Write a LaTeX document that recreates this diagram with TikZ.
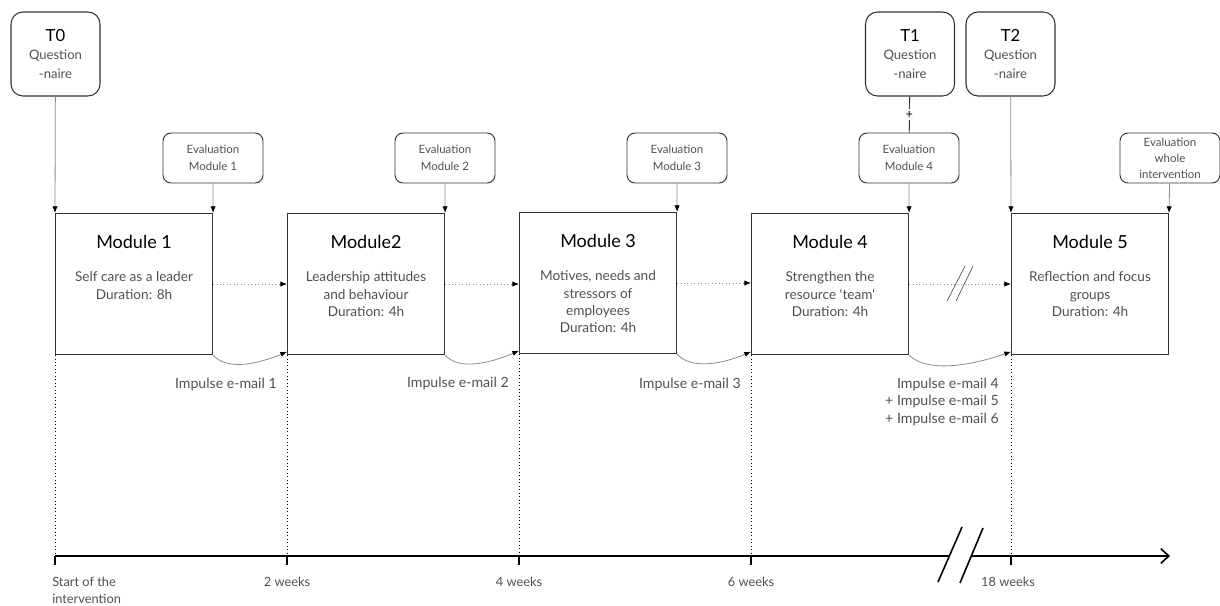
\documentclass[tikz,border=0pt]{standalone}
\usepackage{fontspec}
\setmainfont{Lato}
\usetikzlibrary{arrows.meta,positioning}

\definecolor{txtgray}{HTML}{505050}
\definecolor{linegray}{HTML}{8C8C8C}

\tikzset{
  modbox/.style={draw=black!80, line width=0.8pt, minimum width=117.75pt,
    minimum height=105.75pt, inner sep=0pt, anchor=north west},
  modtitle/.style={font=\fontsize{13.5}{16}\selectfont, text=black},
  modtext/.style={font=\fontsize{10.2}{12.8}\selectfont, text=txtgray,
    align=center, inner sep=0pt, anchor=north},
  qbox/.style={draw=black!80, line width=0.8pt, rounded corners=9pt,
    minimum width=66.75pt, minimum height=63pt, inner sep=0pt, align=center,
    font=\fontsize{9.8}{14}\selectfont, text=txtgray},
  evalbox/.style={draw=black!80, line width=0.7pt, rounded corners=6pt,
    minimum width=75pt, minimum height=37.5pt, inner sep=0pt, align=center,
    font=\fontsize{8.6}{12.5}\selectfont, text=txtgray},
  ptr/.style={linegray, line width=0.6pt, -{Latex[length=5pt,width=4pt,color=black]}},
  dotptr/.style={ptr, dotted},
  mailptr/.style={ptr},
  axis/.style={black, line width=1.2pt},
  lbl/.style={font=\fontsize{9.6}{12.8}\selectfont, text=txtgray, inner sep=0pt},
  maillbl/.style={lbl, font=\fontsize{10.6}{13.1}\selectfont}
}

\begin{document}
\begin{tikzpicture}[x=0.75pt, y=-0.75pt]
    \useasboundingbox (0,0) rectangle (1220,606);

    % questionnaires and evaluations
    \node[qbox] (t0) at (55.5,54) {\textcolor{black}{\fontsize{12.5}{14}\selectfont T0}\\Question\\-naire};
    \node[qbox] (t1) at (910,54) {\textcolor{black}{\fontsize{12.5}{14}\selectfont T1}\\Question\\-naire};
    \node[qbox] (t2) at (1010.5,54) {\textcolor{black}{\fontsize{12.5}{14}\selectfont T2}\\Question\\-naire};

    \node[evalbox] (e1) at (213,158) {Evaluation\\Module 1};
    \node[evalbox] (e2) at (445,158) {Evaluation\\Module 2};
    \node[evalbox] (e3) at (677,158) {Evaluation\\Module 3};
    \node[evalbox] (e4) at (909,158) {Evaluation\\Module 4};
    \node[evalbox, font=\fontsize{8.6}{12}\selectfont] (e5) at (1170,158) {Evaluation\\whole\\intervention};

    % modules
    \node[modbox] (m1) at (55,213) {};
    \node[modbox] (m2) at (287,213) {};
    \node[modbox] (m3) at (519,212) {};
    \node[modbox] (m4) at (751,213) {};
    \node[modbox] (m5) at (1011,213) {};

    \node[modtitle] (m1t) at ([yshift=-22pt]m1.north) {Module 1};
    \node[modtitle] (m2t) at ([yshift=-22pt]m2.north) {Module2};
    \node[modtitle] (m3t) at ([yshift=-22pt]m3.north) {Module 3};
    \node[modtitle] (m4t) at ([yshift=-22pt]m4.north) {Module 4};
    \node[modtitle] (m5t) at ([yshift=-22pt]m5.north) {Module 5};

    \node[modtext] (m1x) at ([yshift=-44pt]m1.north) {Self care as a leader\\Duration: 8h};
    \node[modtext] (m2x) at ([yshift=-44pt]m2.north) {Leadership attitudes\\and behaviour\\Duration: 4h};
    \node[modtext] (m3x) at ([yshift=-44pt]m3.north) {Motives, needs and\\stressors of\\employees\\Duration: 4h};
    \node[modtext] (m4x) at ([yshift=-44pt]m4.north) {Strengthen the\\resource ‘team‘\\Duration: 4h};
    \node[modtext] (m5x) at ([yshift=-44pt]m5.north) {Reflection and focus\\groups\\Duration: 4h};

    % arrows into the modules
    \draw[ptr] (t0) -- (m1.north west);
    \draw[ptr] (e1) -- (m1.north east);
    \draw[ptr] (e2) -- (m2.north east);
    \draw[ptr] (e3) -- (m3.north east);
    \draw[ptr] (e4) -- (m4.north east);
    \draw[ptr] (t2) -- (m5.north west);
    \draw[ptr] (e5) -- (m5.north east);
    \draw[black!80, line width=0.7pt] (t1) -- node[fill=white, inner sep=1.5pt, font=\fontsize{9}{9}\selectfont\bfseries] (plus) {+} (e4);

    % module to module
    \draw[dotptr] (m1.east) -- (m2.west);
    \draw[dotptr] (m2.east) -- (m3.west |- m2.east);
    \draw[dotptr] (m3.east) -- (m4.west |- m3.east);
    \draw[dotptr] (m4.east) -- coordinate[pos=0.5] (brk) (m5.west);
    \draw[black!70, line width=0.5pt] (brk) ++(-13,17) -- ++(18,-35);
    \draw[black!70, line width=0.5pt] (brk) ++(-4,17) -- ++(17,-35);

    % impulse e-mails
    \draw[mailptr] (m1.south east) .. controls +(14,16) and +(-28,12) .. ([yshift=2.5pt]m2.south west);
    \draw[mailptr] (m2.south east) .. controls +(14,16) and +(-28,12) .. ([yshift=2.5pt]m3.south west);
    \draw[mailptr] (m3.south east) .. controls +(14,16) and +(-28,12) .. ([yshift=2.5pt]m4.south west);
    \draw[mailptr] (m4.south east) .. controls +(18,18) and +(-40,14) .. ([yshift=2.5pt]m5.south west);

    \node[maillbl, anchor=east] (i1) at ([xshift=-7.5pt,yshift=-22pt]m2.south west) {Impulse e-mail 1};
    \node[maillbl, anchor=east] (i2) at ([xshift=-7.5pt,yshift=-22pt]m3.south west) {Impulse e-mail 2};
    \node[maillbl, anchor=east] (i3) at ([xshift=-7.5pt,yshift=-22pt]m4.south west) {Impulse e-mail 3};
    \node[maillbl, anchor=north east, align=right] (i4) at ([xshift=-9pt,yshift=-17pt]m5.south west) {Impulse e-mail 4\\+ Impulse e-mail 5\\+ Impulse e-mail 6};

    % time axis
    \coordinate (w0) at (55,556);
    \coordinate (w2) at (287,556);
    \coordinate (w4) at (519,556);
    \coordinate (w6) at (751,556);
    \coordinate (w18) at (1011,556);
    \coordinate (bl) at (949,556);
    \coordinate (br) at (971,556);
    \coordinate (tip) at (1170,556);

    \draw[black, dotted, line width=0.6pt] (m1.south west) -- (w0);
    \draw[black, dotted, line width=0.6pt] (m2.south west) -- (w2);
    \draw[black, dotted, line width=0.6pt] (m3.south west) -- (w4);
    \draw[black, dotted, line width=0.6pt] (m4.south west) -- (w6);
    \draw[black, dotted, line width=0.6pt] (m5.south west) -- (w18);

    \draw[axis] (w0) -- (bl);
    \draw[axis, -{Straight Barb[length=6pt,width=11pt]}] (br) -- (tip);
    \draw[axis] (bl) ++(-11,26) -- ++(24,-55);
    \draw[axis] (br) ++(-11,27) -- ++(23,-55);
    \foreach \w in {w0,w2,w4,w6,w18}
      \draw[axis] (\w) -- ++(0,9);

    \node[lbl, anchor=north west, align=left] (s0) at (52,577) {Start of the\\intervention};
    \node[lbl] (s2) at (287,582) {2 weeks};
    \node[lbl] (s4) at (519,582) {4 weeks};
    \node[lbl] (s6) at (751,582) {6 weeks};
    \node[lbl] (s18) at (1008,582) {18 weeks};
  \end{tikzpicture}
\end{document}
